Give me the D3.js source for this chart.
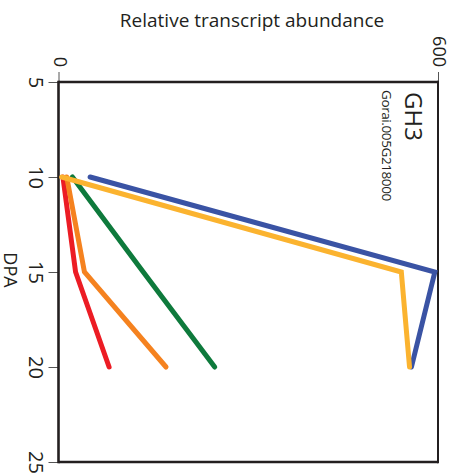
<!DOCTYPE html>
<html>
<head>
<meta charset="utf-8">
<script src="https://cdn.jsdelivr.net/npm/d3@7"></script>
<style>
  html, body { margin: 0; padding: 0; background: #fff; }
  svg { display: block; font-family: "Open Sans", "Noto Sans", sans-serif; }
</style>
</head>
<body>
<svg id="chart" width="464" height="475"></svg>
<script>
// Days post anthesis sampled
const dpa = [10, 15, 20];

// Relative transcript abundance per series, in drawing order
const seriesRed    = [7, 27, 80];
const seriesGreen  = [22, 134, 247];
const seriesOrange = [13, 41, 170];
const seriesBlue   = [50, 595, 558];
const seriesGold   = [5, 542, 555];

const seriesColors = ["#ec1c24", "#0e7a3c", "#f5821f", "#3a53a4", "#fbb32f"];
const seriesValues = [seriesRed, seriesGreen, seriesOrange, seriesBlue, seriesGold];

const dpaTicks = [5, 10, 15, 20, 25];
const abundanceTicks = [0, 600];

const geneName = "GH3";
const geneId = "Gorai.005G218000";

const svg = d3.select("#chart");

// Abundance runs left to right, DPA runs top to bottom
const x = d3.scaleLinear().domain([0, 600]).range([58.5, 438]);
const y = d3.scaleLinear().domain([5, 25]).range([82, 462]);

// Top axis (abundance)
const topAxis = svg.append("g")
  .attr("transform", `translate(0,${y(5)})`)
  .call(d3.axisTop(x).tickValues(abundanceTicks).tickSize(10).tickFormat(d3.format("d")));
topAxis.select(".domain").remove();
topAxis.selectAll(".tick line").attr("stroke", "#555").attr("stroke-width", 1);
topAxis.selectAll(".tick text")
  .attr("x", 0).attr("y", 0).attr("dy", "0.35em")
  .attr("text-anchor", "end")
  .attr("transform", "translate(1,-15) rotate(90)")
  .attr("font-size", 18).attr("fill", "#231f20")
  .style("font-family", "Open Sans");

// Left axis (DPA)
const leftAxis = svg.append("g")
  .attr("transform", `translate(${x(0)},0)`)
  .call(d3.axisLeft(y).tickValues(dpaTicks).tickSize(10).tickFormat(d3.format("d")));
leftAxis.select(".domain").remove();
leftAxis.selectAll(".tick line").attr("stroke", "#555").attr("stroke-width", 1);
leftAxis.selectAll(".tick text")
  .attr("x", 0).attr("y", 0).attr("dy", "0.35em")
  .attr("text-anchor", "middle")
  .attr("transform", "translate(-23,0) rotate(90)")
  .attr("font-size", 20).attr("fill", "#231f20")
  .style("font-family", "Open Sans");

// Plot frame
const frame = svg.append("g").attr("stroke", "#231f20").attr("fill", "none");
frame.append("line").attr("x1", x(0)).attr("x2", x(600)).attr("y1", y(5)).attr("y2", y(5)).attr("stroke-width", 2.6);
frame.append("line").attr("x1", x(0)).attr("x2", x(0)).attr("y1", y(5) - 1.3).attr("y2", y(25) + 1.2).attr("stroke-width", 2.6);
frame.append("line").attr("x1", x(0)).attr("x2", x(600)).attr("y1", y(25)).attr("y2", y(25)).attr("stroke-width", 2.4);
frame.append("line").attr("x1", x(600)).attr("x2", x(600)).attr("y1", y(5) - 1.3).attr("y2", y(25) + 1.2).attr("stroke-width", 2);

// Series lines
const line = d3.line()
  .x(d => x(d[1]))
  .y(d => y(d[0]));

svg.append("g").selectAll("path")
  .data(seriesValues)
  .join("path")
  .attr("d", vals => line(dpa.map((d, i) => [d, vals[i]])))
  .attr("fill", "none")
  .attr("stroke", (d, i) => seriesColors[i])
  .attr("stroke-width", 5)
  .attr("stroke-linecap", "round")
  .attr("stroke-linejoin", "miter");

// Axis titles
svg.append("text")
  .attr("x", 252).attr("y", 27)
  .attr("text-anchor", "middle")
  .attr("font-size", 19).attr("fill", "#231f20")
  .text("Relative transcript abundance");

svg.append("text")
  .attr("x", 0).attr("y", 0).attr("dy", "0.35em")
  .attr("text-anchor", "middle")
  .attr("transform", "translate(10,270) rotate(90)")
  .attr("font-size", 18).attr("fill", "#231f20")
  .text("DPA");

// Gene labels
svg.append("text")
  .attr("transform", "translate(405,92) rotate(90)")
  .attr("font-size", 24).attr("fill", "#231f20")
  .text(geneName);

svg.append("text")
  .attr("transform", "translate(381.5,90) rotate(90)")
  .attr("font-size", 13.5).attr("letter-spacing", "-0.4px").attr("fill", "#231f20")
  .text(geneId);
</script>
</body>
</html>
